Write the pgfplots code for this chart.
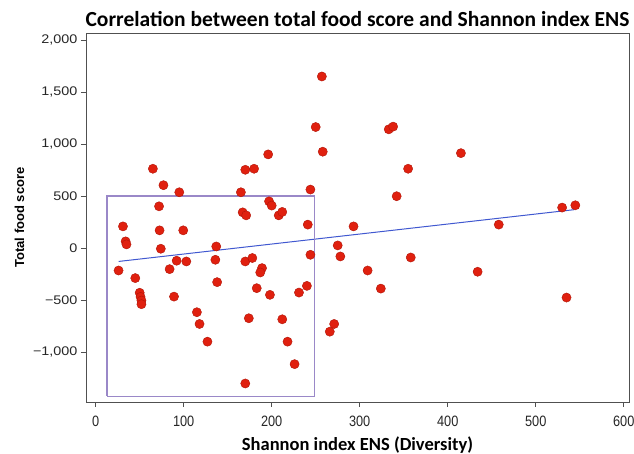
\documentclass[border=0pt]{standalone}
\usepackage{pgfplots}
\pgfplotsset{compat=1.18}
\usepackage{fontspec}
\setmainfont{Liberation Sans}
\newfontfamily\titlefont{Carlito}
\newfontfamily\ytickfont[FakeStretch=1.15]{Liberation Sans}
\newfontfamily\xtickfont[FakeStretch=0.85]{Liberation Sans}
\definecolor{ptfill}{HTML}{E0200F}
\definecolor{ptedge}{HTML}{B01508}
\definecolor{regline}{HTML}{4058D0}
\definecolor{boxcol}{HTML}{9A88C8}
\definecolor{axcol}{HTML}{505050}
\begin{document}
\begin{tikzpicture}
\path[use as bounding box] (-86pt,-52pt) rectangle (548pt,402pt);
\begin{axis}[
  scale only axis, width=543pt, height=369pt,
  xmin=-11, xmax=606, ymin=-1480, ymax=2067,
  xtick={0,100,...,600}, ytick={-1000,-500,...,2000},
  yticklabels={{−1,000},{−500},{0},{500},{1,000},{1,500},{2,000}},
  tick align=outside, tick pos=left,
  major tick length=5pt,
  axis line style={axcol, line width=0.9pt},
  every tick/.style={axcol, line width=0.8pt},
  /pgf/number format/assume math mode=true,
  /pgf/number format/1000 sep={,},
  scaled ticks=false,
  yticklabel style={font=\ytickfont\fontsize{12.5}{14}\selectfont, text=black!85},
  xticklabel style={font=\xtickfont\fontsize{15}{17}\selectfont, text=black!85, yshift=-5pt},
  title={Correlation between total food score and Shannon index ENS},
  title style={font=\titlefont\bfseries\fontsize{21.5}{24}\selectfont, yshift=-3pt},
  xlabel={Shannon index ENS (Diversity)},
  xlabel style={font=\titlefont\bfseries\fontsize{18.5}{20}\selectfont, yshift=-4pt},
  ylabel={Total food score},
  ylabel style={font=\bfseries\fontsize{13}{15}\selectfont, yshift=2pt},
]
\addplot[only marks, mark=*, mark size=4.6pt, mark options={fill=ptfill, draw=ptedge, line width=0.4pt}]
coordinates {
(257,1649)(250,1163)(258,926)(196,900)(65,762)(170,752)(180,762)(77,604)
(95,536)(165,536)(244,562)(72,401)(197,449)(200,408)(167,343)(171,314)
(208,314)(212,347)(241,225)(31,208)(293,208)(72.6,170)(99.5,170)(34,64)
(35,35)(74,-7)(137,15)(26,-216)(92,-122)(103,-129)(136,-113)(170,-129)
(178,-96)(84,-203)(189,-193)(187,-235)(244,-65)(45,-289)(138,-328)(183,-386)
(240,-364)(231,-428)(50,-430)(51,-470)(52,-505)(52,-540)(89,-467)(198,-450)
(115,-617)(118,-730)(174,-675)(212,-685)(127,-900)(218,-900)(226,-1116)(170,-1302)
(275,25)(278,-81)(266,-804)(271,-730)(342,498)(309,-216)(324,-390)(358,-91)
(434,-228)(458,225)(530,389)(545,411)(535,-476)(333,1141)(338,1167)(415,912)
(355,762)
};
\addplot[no marks, regline, line width=1pt] coordinates {(26,-129) (544,369)};
\addplot[no marks, boxcol, line width=1.3pt] coordinates {(13,-1424) (249,-1424) (249,500) (13,500) (13,-1424)};
\end{axis}
\end{tikzpicture}
\end{document}
